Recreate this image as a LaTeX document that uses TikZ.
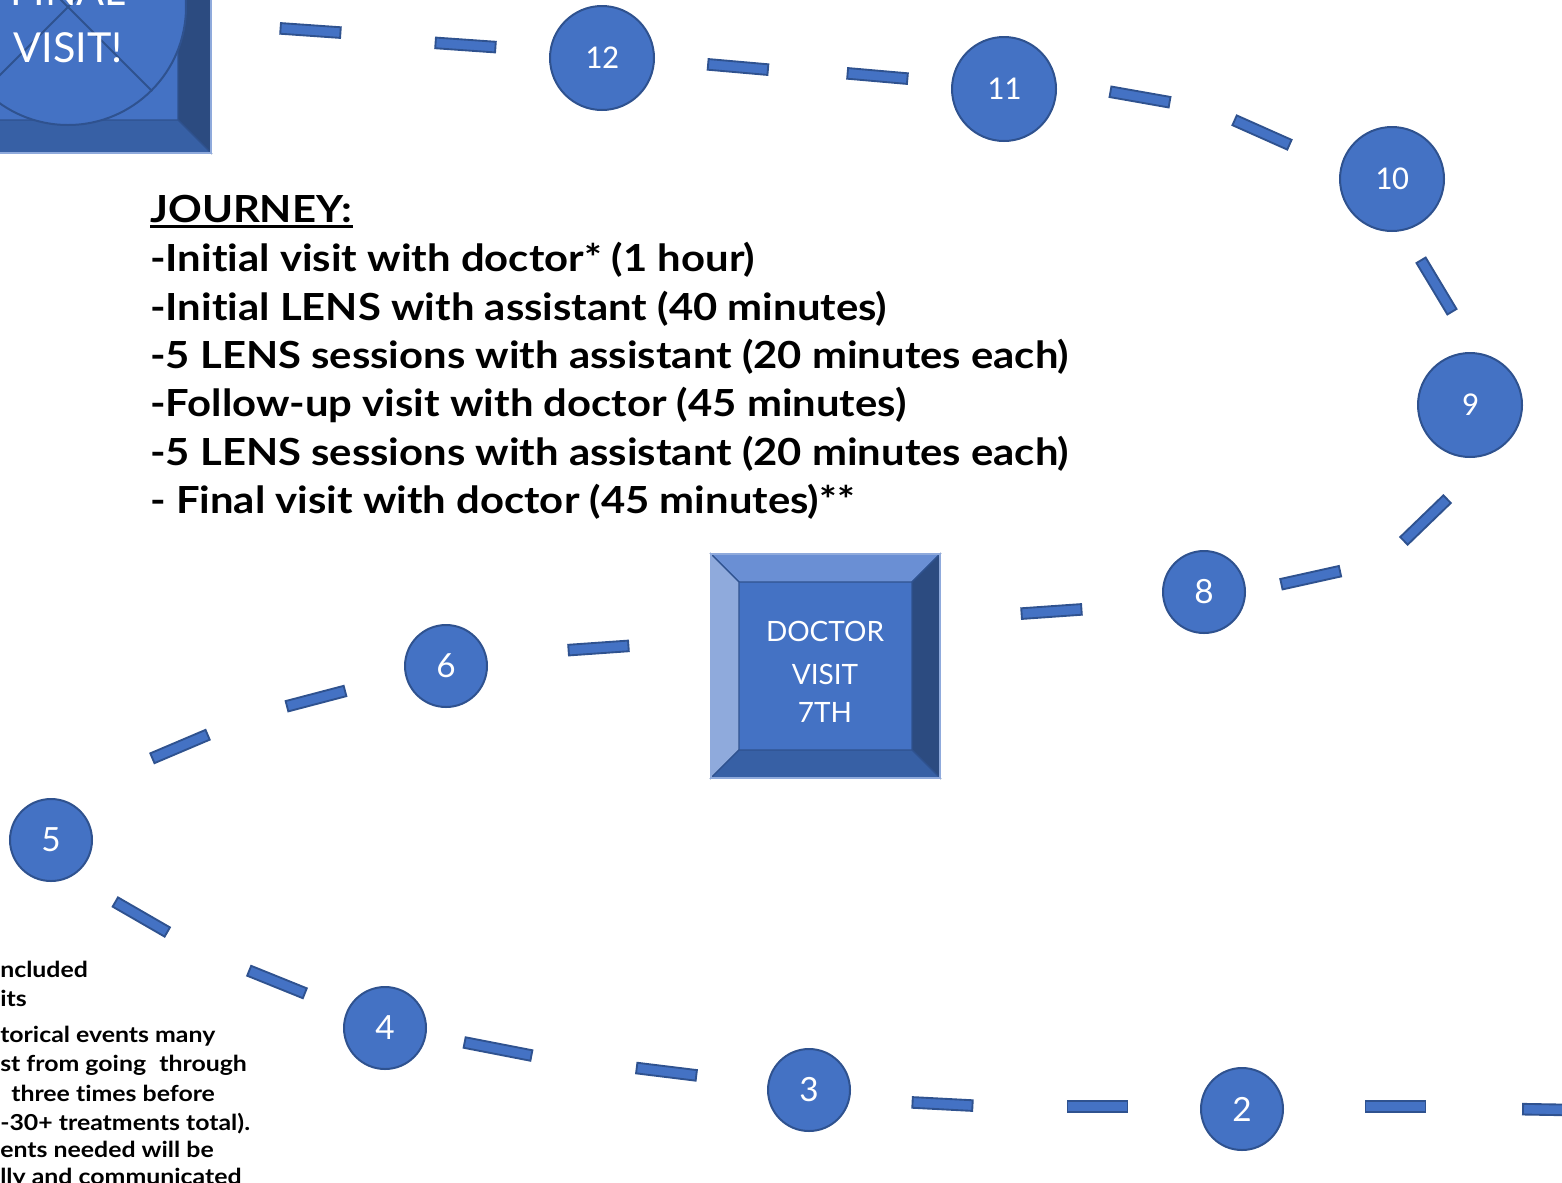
\documentclass[tikz,border=0pt]{standalone}
\usepackage{fontspec}
\setmainfont{Lato}
\newfontfamily\lato[Ligatures=NoCommon]{Lato}
\newfontfamily\latow[FakeStretch=1.12, Ligatures=NoCommon]{Lato}
\newfontfamily\laton[FakeStretch=1.13, Ligatures=NoCommon]{Lato}
\newfontfamily\carl{Carlito}
\definecolor{cfill}{HTML}{4472C4}
\definecolor{cedge}{HTML}{2F528F}
\definecolor{btop}{HTML}{6A8FD4}
\definecolor{bleft}{HTML}{8FAADC}
\definecolor{bright}{HTML}{2C4B80}
\definecolor{bbottom}{HTML}{3760A5}
\tikzset{
  bigc/.style={circle, fill=cfill, draw=cedge, line width=1.5pt, minimum size=78pt, inner sep=0pt, text=white, font=\carl\fontsize{25}{30}\selectfont},
  smallc/.style={circle, fill=cfill, draw=cedge, line width=1.5pt, minimum size=61.5pt, inner sep=0pt, text=white, font=\lato\fontsize{25}{30}\selectfont},
  dashbox/.style={rectangle, fill=cfill, draw=cedge, line width=1.4pt, minimum width=45pt, minimum height=8pt, inner sep=0pt},
  bevel/.style={draw=cedge, line width=1pt},
  jline/.style={anchor=base west, inner sep=0pt, font=\latow\bfseries\fontsize{28}{34}\selectfont},
  note/.style={anchor=base west, inner sep=0pt, font=\laton\bfseries\fontsize{16.5}{20}\selectfont},
}
\begin{document}
\begin{tikzpicture}[x=0.75pt,y=-0.75pt]
\useasboundingbox (0,0) rectangle (1562,1182);
\clip (0,0) rectangle (1562,1182);

% FINAL VISIT box (top-left, cut off)
\fill[cfill] (-200,-200) rectangle (211,153);
\filldraw[bevel, fill=bright] (178,-200) -- (211,-200) -- (211,153) -- (178,120) -- cycle;
\filldraw[bevel, fill=bbottom] (-200,120) -- (178,120) -- (211,153) -- (-200,153) -- cycle;
\draw[bleft, line width=0.8pt] (211,-200) -- (211,153) -- (-200,153);
\node[circle, fill=cfill, draw=cedge, line width=1.5pt, minimum size=177pt, inner sep=0pt] (fc) at (68,7) {};
\draw[cedge, line width=1.5pt] (fc.north west) -- (fc.south east);
\draw[cedge, line width=1.5pt] (fc.north east) -- (fc.south west);
\node[anchor=base, inner sep=0pt, text=white, font=\lato\fontsize{31}{36}\selectfont] (ffinal) at (68,5) {FINAL};
\node[anchor=base, inner sep=0pt, text=white, font=\lato\fontsize{31}{36}\selectfont] (fvisit) at (68,62) {VISIT!};

% DOCTOR VISIT 7TH box
\fill[cfill] (711,554) rectangle (940,778);
\filldraw[bevel, fill=btop] (711,554) -- (940,554) -- (912,582) -- (739,582) -- cycle;
\filldraw[bevel, fill=bleft] (711,554) -- (739,582) -- (739,750) -- (711,778) -- cycle;
\filldraw[bevel, fill=bright] (940,554) -- (940,778) -- (912,750) -- (912,582) -- cycle;
\filldraw[bevel, fill=bbottom] (711,778) -- (739,750) -- (912,750) -- (940,778) -- cycle;
\draw[bleft, line width=0.8pt] (711,554) rectangle (940,778);
\node[anchor=base, inner sep=0pt, text=white, font=\lato\fontsize{21}{26}\selectfont] (doc1) at (825,641) {DOCTOR};
\node[anchor=base, inner sep=0pt, text=white, font=\lato\fontsize{21}{26}\selectfont] (doc2) at (825,684) {VISIT};
\node[anchor=base, inner sep=0pt, text=white, font=\lato\fontsize{21}{26}\selectfont] (doc3) at (825,722) {7TH};

% circles
\node[bigc] (c12) at (602,58) {12};
\node[bigc] (c11) at (1004,89) {11};
\node[bigc] (c10) at (1392,179) {10};
\node[bigc] (c9) at (1470,405) {9};
\node[smallc] (c8) at (1204,592) {8};
\node[smallc] (c6) at (446,666) {6};
\node[smallc] (c5) at (51,840) {5};
\node[smallc] (c4) at (385,1028) {4};
\node[smallc] (c3) at (809,1090) {3};
\node[smallc] (c2) at (1242,1109) {2};

% dashes
\node[dashbox, rotate=-4] (d1) at (310.5,30.5) {};
\node[dashbox, rotate=-4] (d2) at (465.5,45) {};
\node[dashbox, rotate=-5] (d3) at (738,67) {};
\node[dashbox, rotate=-5] (d4) at (877.5,76) {};
\node[dashbox, rotate=-10] (d5) at (1140,97) {};
\node[dashbox, rotate=-24] (d6) at (1262,132.5) {};
\node[dashbox, rotate=-59] (d7) at (1436.5,286) {};
\node[dashbox, rotate=44] (d8) at (1425.5,520) {};
\node[dashbox, rotate=12.5] (d9) at (1310.7,577.7) {};
\node[dashbox, rotate=4] (d10) at (1051.5,611.5) {};
\node[dashbox, rotate=4] (d11) at (598.5,648) {};
\node[dashbox, rotate=14.7] (d12) at (316,698.6) {};
\node[dashbox, rotate=23] (d13) at (180,746.5) {};
\node[dashbox, rotate=-30] (d14) at (141.3,917) {};
\node[dashbox, rotate=-22] (d15) at (277,982) {};
\node[dashbox, rotate=-11, minimum width=51pt] (d16) at (498,1049) {};
\node[dashbox, rotate=-7] (d17) at (666.5,1071.7) {};
\node[dashbox, rotate=-3] (d18) at (942.5,1104) {};
\node[dashbox] (d19) at (1097.5,1106.5) {};
\node[dashbox] (d20) at (1395.5,1106.3) {};
\node[dashbox, rotate=-1] (d21) at (1553,1109.7) {};

% journey text
\node[jline] (j0) at (150,222) {JOURNEY:};
\draw[line width=2.2pt] ([yshift=-3.6pt]j0.base west) -- ([yshift=-3.6pt]j0.base east);
\node[jline] (j1) at (150,271.5) {-Initial visit with doctor* (1 hour)};
\node[jline] (j2) at (150,320) {-Initial LENS with assistant (40 minutes)};
\node[jline] (j3) at (150,368) {-5 LENS sessions with assistant (20 minutes each)};
\node[jline] (j4) at (150,416.5) {-Follow-up visit with doctor (45 minutes)};
\node[jline] (j5) at (150,465) {-5 LENS sessions with assistant (20 minutes each)};
\node[jline] (j6) at (150,513) {- Final visit with doctor (45 minutes)**};

% bottom-left note (cut off)
\node[note] (n1) at (0,977) {ncluded};
\node[note] (n2) at (0,1006) {its};
\node[note] (n3) at (0,1042) {torical events many};
\node[note] (n4) at (0,1071) {st from going\hspace{0.6em}through};
\node[note] (n5) at (11,1101) {three times before};
\node[note] (n6) at (0,1130) {-30+ treatments total).};
\node[note] (n7) at (0,1157) {ents needed will be};
\node[note] (n8) at (0,1184) {lly and communicated};
\end{tikzpicture}
\end{document}
